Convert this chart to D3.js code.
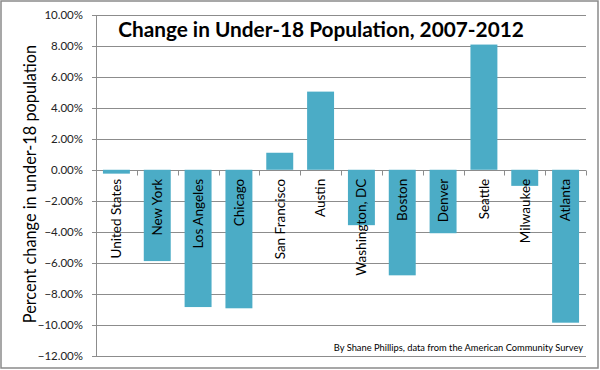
<!DOCTYPE html>
<html>
<head>
<meta charset="utf-8">
<script src="https://cdn.jsdelivr.net/npm/d3@7"></script>
<style>
  body { margin: 0; background: #fff; }
  svg { display: block; }
</style>
</head>
<body>
<div id="chart"></div>
<script>
var cities = ["United States", "New York", "Los Angeles", "Chicago", "San Francisco", "Austin",
              "Washington, DC", "Boston", "Denver", "Seattle", "Milwaukee", "Atlanta"];
var change = [-0.0025, -0.059, -0.0887, -0.0895, 0.011, 0.0505,
              -0.0358, -0.0682, -0.041, 0.0809, -0.0104, -0.0988];
var yTicks = [0.10, 0.08, 0.06, 0.04, 0.02, 0, -0.02, -0.04, -0.06, -0.08, -0.10, -0.12];

var W = 600, H = 370;
var font = "Lato, 'Open Sans', sans-serif";

var svg = d3.select("#chart")
  .append("svg")
  .attr("width", W)
  .attr("height", H);

svg.append("rect")
  .attr("width", W).attr("height", H)
  .attr("fill", "#fff");

// outer frame
svg.append("rect")
  .attr("x", 1).attr("y", 1)
  .attr("width", 597).attr("height", 367)
  .attr("fill", "none")
  .attr("stroke", "#8a8a8a")
  .attr("stroke-width", 1.5);

var x = d3.scaleBand()
  .domain(cities)
  .range([96, 586])
  .paddingInner(0.34)
  .paddingOuter(0.17);

var y = d3.scaleLinear()
  .domain([-0.12, 0.10])
  .range([355.5, 15]);

// gridlines
svg.append("g")
  .selectAll("line")
  .data(yTicks)
  .enter()
  .append("line")
    .attr("x1", 92)
    .attr("x2", 586)
    .attr("y1", function(d) { return Math.round(y(d)) + 0.5; })
    .attr("y2", function(d) { return Math.round(y(d)) + 0.5; })
    .attr("stroke", "#8c8c8c")
    .attr("stroke-width", 1);

// y axis line
svg.append("line")
  .attr("x1", 96.5).attr("x2", 96.5)
  .attr("y1", Math.round(y(0.10)) + 0.5)
  .attr("y2", Math.round(y(-0.12)) + 0.5)
  .attr("stroke", "#8c8c8c");

// y tick labels
svg.append("g")
  .selectAll("text")
  .data(yTicks)
  .enter()
  .append("text")
    .attr("x", 83)
    .attr("y", function(d) { return y(d); })
    .attr("dy", "0.36em")
    .attr("text-anchor", "end")
    .style("font-family", font)
    .style("font-size", "11.5px")
    .style("fill", "#222")
    .text(function(d) { return d3.format(".2%")(d); });

// bars
svg.append("g")
  .selectAll("rect")
  .data(change)
  .enter()
  .append("rect")
    .attr("x", function(d, i) { return x(cities[i]); })
    .attr("width", x.bandwidth())
    .attr("y", function(d) { return y(Math.max(0, d)); })
    .attr("height", function(d) { return Math.abs(y(d) - y(0)); })
    .attr("fill", "#4bacc6");

// category ticks on zero line
svg.append("g")
  .selectAll("line")
  .data(d3.range(cities.length + 1))
  .enter()
  .append("line")
    .attr("x1", function(i) { return Math.round(96 + i * (490 / cities.length)) + 0.5; })
    .attr("x2", function(i) { return Math.round(96 + i * (490 / cities.length)) + 0.5; })
    .attr("y1", Math.round(y(0)) + 0.5)
    .attr("y2", Math.round(y(0)) + 5.5)
    .attr("stroke", "#8c8c8c");

// category labels
svg.append("g")
  .selectAll("text")
  .data(cities)
  .enter()
  .append("text")
    .attr("transform", function(d) {
      return "translate(" + (x(d) + x.bandwidth() / 2) + "," + (y(0) + 9) + ") rotate(-90)";
    })
    .attr("dy", "0.36em")
    .attr("text-anchor", "end")
    .style("font-family", font)
    .style("font-size", "13.5px")
    .style("fill", "#000")
    .text(function(d) { return d; });

// title
svg.append("text")
  .attr("x", 321)
  .attr("y", 37)
  .attr("text-anchor", "middle")
  .style("font-family", font)
  .style("font-weight", "bold")
  .style("font-size", "20.8px")
  .style("fill", "#000")
  .text("Change in Under-18 Population, 2007-2012");

// y axis title
svg.append("text")
  .attr("transform", "translate(30,184) rotate(-90)")
  .attr("dy", "0.36em")
  .attr("text-anchor", "middle")
  .style("font-family", font)
  .style("font-size", "16.3px")
  .style("fill", "#000")
  .text("Percent change in under-18 population");

// source note
svg.append("text")
  .attr("x", 583)
  .attr("y", 351)
  .attr("text-anchor", "end")
  .style("font-family", font)
  .style("font-size", "9.3px")
  .style("fill", "#000")
  .text("By Shane Phillips, data from the American Community Survey");
</script>
</body>
</html>
